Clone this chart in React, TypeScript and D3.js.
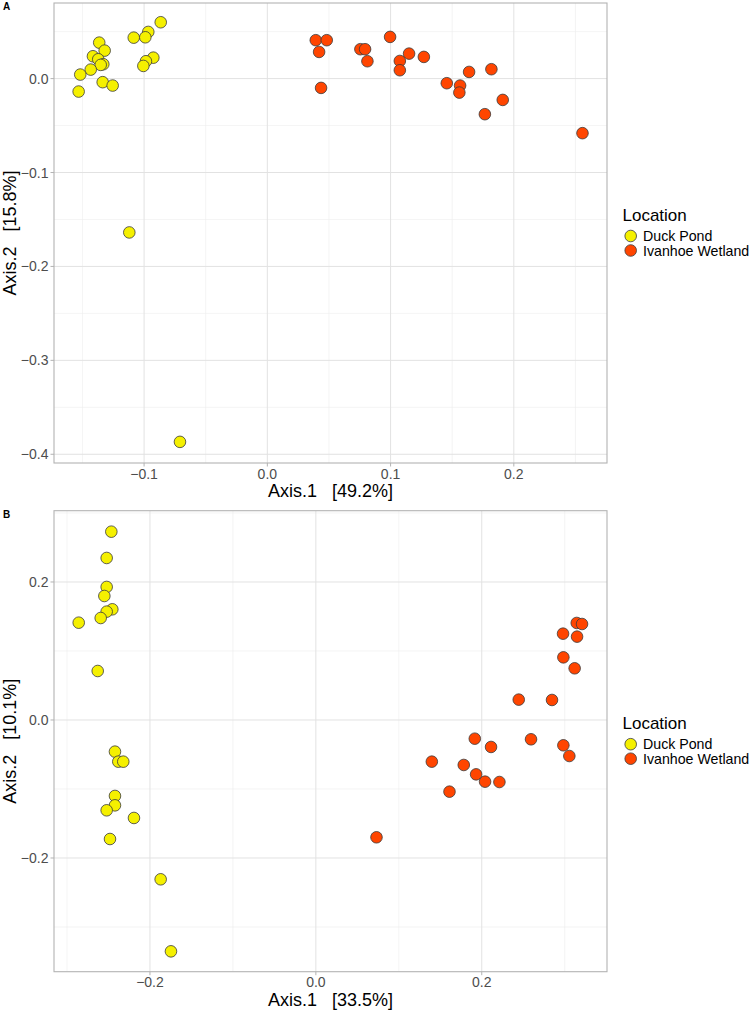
import React from "react";
import * as d3 from "d3";

// PCoA ordination coordinates, panel A
const duckA_x = [-0.0865, -0.0966, -0.1084, -0.099, -0.0925, -0.0985, -0.1006, -0.1364, -0.132, -0.1415, -0.1372, -0.1331, -0.1352, -0.1433, -0.1518, -0.1531, -0.1336, -0.1255, -0.112, -0.0709];
const duckA_y = [0.060, 0.0497, 0.0436, 0.044, 0.0223, 0.0185, 0.0135, 0.0383, 0.0298, 0.0238, 0.0206, 0.0153, 0.0146, 0.0096, 0.0043, -0.0138, -0.0038, -0.0074, -0.1638, -0.3868];
const ivanA_x = [0.0393, 0.0482, 0.042, 0.0436, 0.0755, 0.0793, 0.0812, 0.0996, 0.115, 0.127, 0.1075, 0.1075, 0.1456, 0.1564, 0.1558, 0.1637, 0.1818, 0.191, 0.1765, 0.2557];
const ivanA_y = [0.0409, 0.0409, 0.0284, -0.0099, 0.0313, 0.0313, 0.0185, 0.0444, 0.0266, 0.0231, 0.0188, 0.0089, -0.0049, -0.0074, -0.0149, 0.0071, 0.010, -0.0227, -0.0379, -0.0581];

// PCoA ordination coordinates, panel B
const duckB_x = [-0.2466, -0.2522, -0.2522, -0.255, -0.2454, -0.2522, -0.2594, -0.2859, -0.263, -0.2422, -0.2382, -0.2322, -0.2422, -0.2422, -0.2522, -0.2193, -0.2482, -0.1871, -0.1747];
const duckB_y = [0.2729, 0.2348, 0.1928, 0.1797, 0.1604, 0.157, 0.1478, 0.141, 0.071, -0.0459, -0.0604, -0.0604, -0.1101, -0.1237, -0.1309, -0.142, -0.1725, -0.2309, -0.3353];
const ivanB_x = [0.3145, 0.3209, 0.298, 0.3149, 0.2984, 0.312, 0.2446, 0.2847, 0.1916, 0.2594, 0.2112, 0.2984, 0.3056, 0.1398, 0.1783, 0.1932, 0.204, 0.2213, 0.1611, 0.0731];
const ivanB_y = [0.1406, 0.1391, 0.1251, 0.1208, 0.0908, 0.0749, 0.0295, 0.029, -0.0271, -0.028, -0.0391, -0.0367, -0.0522, -0.0604, -0.0652, -0.0788, -0.0894, -0.0899, -0.1039, -0.17];

const groups = ["Duck Pond", "Ivanhoe Wetland"];
const groupColors = ["#f5f000", "#ff4500"];

const ticksA_x = [-0.1, 0.0, 0.1, 0.2];
const minorA_x = [-0.15, -0.05, 0.05, 0.15, 0.25];
const ticksA_y = [0.0, -0.1, -0.2, -0.3, -0.4];
const minorA_y = [0.05, -0.05, -0.15, -0.25, -0.35];

const ticksB_x = [-0.2, 0.0, 0.2];
const minorB_x = [-0.3, -0.1, 0.1, 0.3];
const ticksB_y = [0.2, 0.0, -0.2];
const minorB_y = [0.3, 0.1, -0.1, -0.3];

const FONT = "'Liberation Sans', Arial, Helvetica, sans-serif";

type PanelProps = {
  label: string;
  top: number;
  bottom: number;
  xDomain: [number, number];
  yDomain: [number, number];
  xTicks: number[];
  xMinor: number[];
  yTicks: number[];
  yMinor: number[];
  xTitle: string;
  yTitle: string;
  series: { x: number[]; y: number[] }[];
};

function Panel(p: PanelProps) {
  const left = 54;
  const right = 607;
  const x = d3.scaleLinear().domain(p.xDomain).range([left, right]);
  const y = d3.scaleLinear().domain(p.yDomain).range([p.bottom, p.top]);
  const fmt = d3.format(".1f");
  const mid = (p.top + p.bottom) / 2;
  return (
    <g>
      <text x={3} y={p.top + 7} fontFamily={FONT} fontWeight="bold" fontSize={10} fill="#000">{p.label}</text>
      <rect x={left} y={p.top} width={right - left} height={p.bottom - p.top} fill="#fff" />
      {p.xMinor.map((v) => (
        <line key={"xm" + v} x1={x(v)} x2={x(v)} y1={p.top} y2={p.bottom} stroke="#ececec" strokeWidth={0.6} />
      ))}
      {p.yMinor.map((v) => (
        <line key={"ym" + v} x1={left} x2={right} y1={y(v)} y2={y(v)} stroke="#ececec" strokeWidth={0.6} />
      ))}
      {p.xTicks.map((v) => (
        <line key={"xg" + v} x1={x(v)} x2={x(v)} y1={p.top} y2={p.bottom} stroke="#e2e2e2" strokeWidth={1} />
      ))}
      {p.yTicks.map((v) => (
        <line key={"yg" + v} x1={left} x2={right} y1={y(v)} y2={y(v)} stroke="#e2e2e2" strokeWidth={1} />
      ))}
      {p.series.map((s, gi) =>
        s.x.map((xv, i) => (
          <circle key={gi + "-" + i} cx={x(xv)} cy={y(s.y[i])} r={5.8} fill={groupColors[gi]} stroke="#3a3a3a" strokeWidth={0.8} />
        ))
      )}
      <rect x={left} y={p.top} width={right - left} height={p.bottom - p.top} fill="none" stroke="#b3b3b3" strokeWidth={1.1} />
      {p.xTicks.map((v) => (
        <g key={"xt" + v}>
          <line x1={x(v)} x2={x(v)} y1={p.bottom} y2={p.bottom + 3.5} stroke="#b3b3b3" strokeWidth={1} />
          <text x={x(v)} y={p.bottom + 15.5} textAnchor="middle" fontFamily={FONT} fontSize={14} fill="#4d4d4d">{fmt(v)}</text>
        </g>
      ))}
      {p.yTicks.map((v) => (
        <g key={"yt" + v}>
          <line x1={left - 3.5} x2={left} y1={y(v)} y2={y(v)} stroke="#b3b3b3" strokeWidth={1} />
          <text x={left - 5.5} y={y(v) + 5} textAnchor="end" fontFamily={FONT} fontSize={14} fill="#4d4d4d">{fmt(v)}</text>
        </g>
      ))}
      <text x={(left + right) / 2} y={p.bottom + 34} textAnchor="middle" fontFamily={FONT} fontSize={18} fill="#000" style={{ whiteSpace: "pre" }}>{p.xTitle}</text>
      <text transform={`translate(16,${mid}) rotate(-90)`} textAnchor="middle" fontFamily={FONT} fontSize={18} fill="#000" style={{ whiteSpace: "pre" }}>{p.yTitle}</text>
      <g>
        <text x={622.5} y={mid - 12} fontFamily={FONT} fontSize={17} fill="#000">Location</text>
        {groups.map((g, i) => (
          <g key={g}>
            <circle cx={630.7} cy={mid + 3 + i * 14.5} r={5.8} fill={groupColors[i]} stroke="#3a3a3a" strokeWidth={0.8} />
            <text x={643} y={mid + 8 + i * 14.5} fontFamily={FONT} fontSize={14.2} fill="#000">{g}</text>
          </g>
        ))}
      </g>
    </g>
  );
}

export default function App() {
  return (
    <svg width={751} height={1011} style={{ position: "absolute", left: 0, top: 0, background: "#fff" }}>
      <rect width={751} height={1011} fill="#fff" />
      <Panel
        label="A"
        top={3}
        bottom={463}
        xDomain={[-0.1731, 0.2756]}
        yDomain={[-0.4093, 0.0805]}
        xTicks={ticksA_x}
        xMinor={minorA_x}
        yTicks={ticksA_y}
        yMinor={minorA_y}
        xTitle={"Axis.1   [49.2%]"}
        yTitle={"Axis.2   [15.8%]"}
        series={[{ x: duckA_x, y: duckA_y }, { x: ivanA_x, y: ivanA_y }]}
      />
      <Panel
        label="B"
        top={510.7}
        bottom={971.7}
        xDomain={[-0.3157, 0.351]}
        yDomain={[-0.3648, 0.3033]}
        xTicks={ticksB_x}
        xMinor={minorB_x}
        yTicks={ticksB_y}
        yMinor={minorB_y}
        xTitle={"Axis.1   [33.5%]"}
        yTitle={"Axis.2   [10.1%]"}
        series={[{ x: duckB_x, y: duckB_y }, { x: ivanB_x, y: ivanB_y }]}
      />
    </svg>
  );
}
